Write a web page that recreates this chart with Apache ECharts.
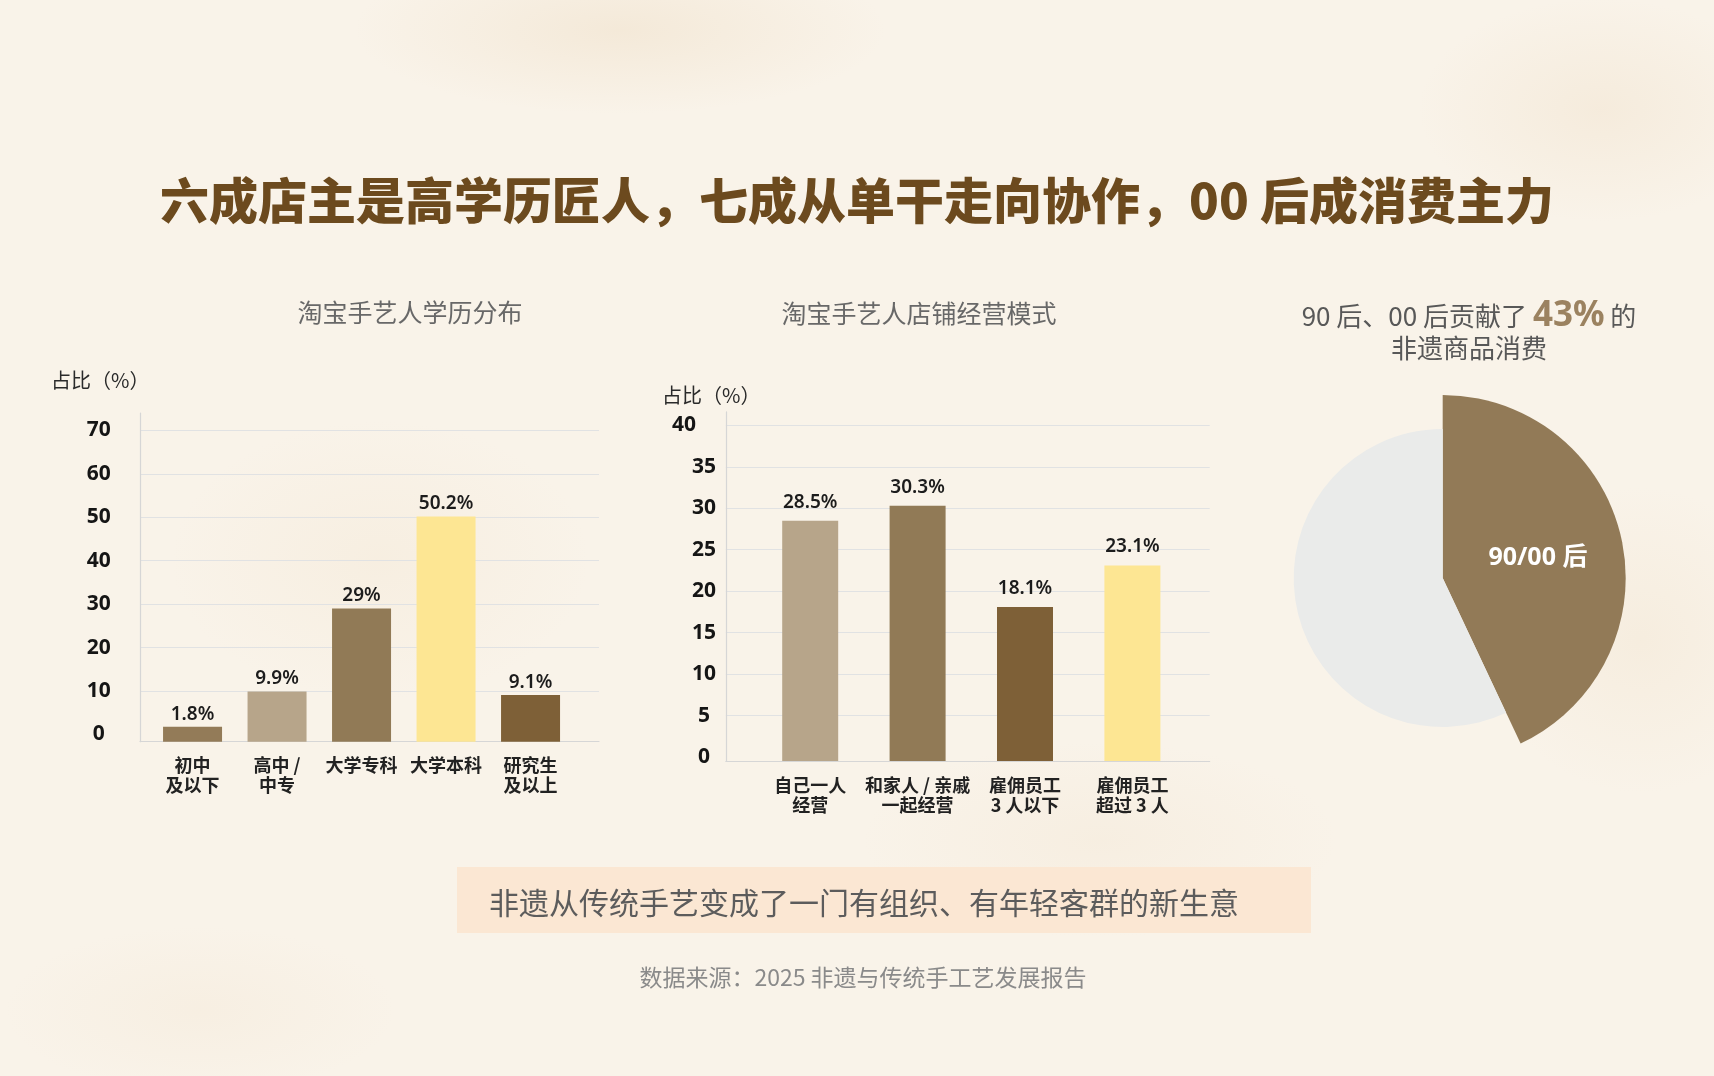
<!DOCTYPE html>
<html>
<head>
<meta charset="utf-8">
<script src="https://cdn.jsdelivr.net/npm/echarts@6/dist/echarts.min.js"></script>
<style>
  html, body { margin: 0; padding: 0; }
  body {
    width: 1714px; height: 1076px; overflow: hidden;
    background-color: #f9f3e9;
    background-image:
      radial-gradient(ellipse 380px 120px at 620px 30px, rgba(226, 198, 158, 0.22), rgba(226, 198, 158, 0) 70%),
      radial-gradient(ellipse 260px 160px at 1600px 110px, rgba(228, 200, 162, 0.18), rgba(228, 200, 162, 0) 70%),
      radial-gradient(ellipse 220px 220px at 1640px 640px, rgba(230, 205, 168, 0.16), rgba(230, 205, 168, 0) 70%),
      radial-gradient(ellipse 300px 200px at 380px 560px, rgba(234, 210, 175, 0.14), rgba(234, 210, 175, 0) 70%),
      radial-gradient(ellipse 340px 140px at 1100px 840px, rgba(232, 208, 175, 0.14), rgba(232, 208, 175, 0) 70%),
      radial-gradient(ellipse 280px 120px at 200px 1010px, rgba(232, 208, 175, 0.12), rgba(232, 208, 175, 0) 70%);
  }
  #chart { width: 1714px; height: 1076px; }
</style>
</head>
<body>
<div id="chart"></div>
<script>
// ---------- data ----------
const eduCategories = ['初中\n及以下', '高中 /\n中专', '大学专科', '大学本科', '研究生\n及以上'];
const eduValues = [1.8, 9.9, 29, 50.2, 9.1];
const eduTicks = [0, 10, 20, 30, 40, 50, 60, 70];

const modeCategories = ['自己一人\n经营', '和家人 / 亲戚\n一起经营', '雇佣员工\n3 人以下', '雇佣员工\n超过 3 人'];
const modeValues = [28.5, 30.3, 18.1, 23.1];
const modeTicks = [0, 5, 10, 15, 20, 25, 30, 35, 40];

const ageNames = ['90/00 后', '其他'];
const ageValues = [43, 57];

// ---------- styles ----------
const CJK = "'Noto Sans CJK SC', 'Noto Sans', sans-serif";
const LAT = "'Noto Sans', 'Noto Sans CJK SC', sans-serif";
const eduColors = ['#937b58', '#b7a58a', '#917a56', '#fde693', '#7e6037'];
const modeColors = ['#b7a58a', '#917a56', '#7e6037', '#fde693'];
const gridColor = '#e1e2e3';
const axisColor = '#d6d6d6';

const chart = echarts.init(document.getElementById('chart'), null, { renderer: 'canvas' });

function tickAxis(gi, ticks, margin, rich) {
  return {
    type: 'value', gridIndex: gi,
    min: ticks[0], max: ticks[ticks.length - 1], interval: ticks[1] - ticks[0],
    axisLine: { show: false }, axisTick: { show: false },
    splitLine: { show: true, showMinLine: false, lineStyle: { color: gridColor, width: 1 } },
    axisLabel: Object.assign({
      show: true, margin: margin, align: 'center',
      fontFamily: LAT, fontSize: 21, fontWeight: 'bold', color: '#151515'
    }, rich || {})
  };
}
function lineAxisY(gi, max) {
  return {
    type: 'value', gridIndex: gi, min: 0, max: max,
    axisLine: { show: true, lineStyle: { color: axisColor, width: 1.2 } },
    axisTick: { show: false }, axisLabel: { show: false }, splitLine: { show: false }
  };
}
function lineAxisX(gi) {
  return {
    type: 'category', gridIndex: gi, data: ['a'],
    axisLine: { show: true, lineStyle: { color: axisColor, width: 1.2 } },
    axisTick: { show: false }, axisLabel: { show: false }, splitLine: { show: false }
  };
}
function barAxisY(gi, min, max) {
  return {
    type: 'value', gridIndex: gi, min: min, max: max, startValue: min,
    show: false, splitLine: { show: false }
  };
}
function barAxisX(gi, cats, margin) {
  return {
    type: 'category', gridIndex: gi, data: cats,
    axisLine: { show: false }, axisTick: { show: false }, splitLine: { show: false },
    axisLabel: {
      show: true, interval: 0, margin: margin,
      fontFamily: CJK, fontSize: 18, fontWeight: 'bold', color: '#222', lineHeight: 20
    }
  };
}

const option = {
  backgroundColor: 'transparent',
  animation: false,
  title: [
    { text: '六成店主是高学历匠人，七成从单干走向协作，00 后成消费主力', left: 857, top: 170, textAlign: 'center', padding: 0,
      textStyle: { fontFamily: CJK, fontSize: 49, fontWeight: 900, color: '#6c4a1e', lineHeight: 60 } },
    { text: '淘宝手艺人学历分布', left: 410, top: 297, textAlign: 'center', padding: 0,
      textStyle: { fontFamily: CJK, fontSize: 25, fontWeight: 'normal', color: '#686868', lineHeight: 30 } },
    { text: '淘宝手艺人店铺经营模式', left: 919, top: 298, textAlign: 'center', padding: 0,
      textStyle: { fontFamily: CJK, fontSize: 25, fontWeight: 'normal', color: '#686868', lineHeight: 30 } },
    { text: '占比（%）', left: 51, top: 368, textAlign: 'left', padding: 0,
      textStyle: { fontFamily: CJK, fontSize: 20, fontWeight: 'normal', color: '#2a2a2a', lineHeight: 24 } },
    { text: '占比（%）', left: 662, top: 383, textAlign: 'left', padding: 0,
      textStyle: { fontFamily: CJK, fontSize: 20, fontWeight: 'normal', color: '#2a2a2a', lineHeight: 24 } },
    { text: '{a|90 后、00 后贡献了 }{b|43%}{a| 的}\n{a|非遗商品消费}', left: 1469, top: 300, textAlign: 'center', padding: 0,
      textStyle: {
        fontFamily: CJK, fontSize: 26, color: '#555', lineHeight: 32,
        rich: {
          a: { fontFamily: CJK, fontSize: 26, fontWeight: 'normal', color: '#585858', lineHeight: 32 },
          b: { fontFamily: LAT, fontSize: 35, fontWeight: 'bold', color: '#9b8260', lineHeight: 32 }
        }
      } },
    { text: '非遗从传统手艺变成了一门有组织、有年轻客群的新生意', left: 489, top: 885, textAlign: 'left', padding: 0,
      textStyle: { fontFamily: CJK, fontSize: 30, fontWeight: 'normal', color: '#5c5c5c', lineHeight: 36 } },
    { text: '数据来源：2025 非遗与传统手工艺发展报告', left: 863, top: 963, textAlign: 'center', padding: 0,
      textStyle: { fontFamily: CJK, fontSize: 23, fontWeight: 'normal', color: '#8a8a8a', lineHeight: 28 } }
  ],
  graphic: [
    { type: 'rect', z: -10, silent: true,
      shape: { x: 457, y: 867, width: 854, height: 66 },
      style: { fill: '#fbe7d3' } }
  ],
  grid: [
    // chart 1: ticks/gridlines, axis lines, bars
    { left: 140, top: 430.3, width: 459, height: 304.2, outerBoundsMode: 'none', containLabel: false },
    { left: 140, top: 413, width: 459, height: 328.7, outerBoundsMode: 'none', containLabel: false },
    { left: 150.3, top: 413, width: 422.5, height: 328.7, outerBoundsMode: 'none', containLabel: false },
    // chart 2
    { left: 725.8, top: 425.3, width: 483.9, height: 331.8, outerBoundsMode: 'none', containLabel: false },
    { left: 725.8, top: 411.9, width: 483.9, height: 349.2, outerBoundsMode: 'none', containLabel: false },
    { left: 756.5, top: 411.9, width: 429.6, height: 349.2, outerBoundsMode: 'none', containLabel: false }
  ],
  xAxis: [
    { type: 'category', gridIndex: 0, data: ['a'], show: false },
    lineAxisX(1),
    barAxisX(2, eduCategories, 13),
    { type: 'category', gridIndex: 3, data: ['a'], show: false },
    lineAxisX(4),
    barAxisX(5, modeCategories, 14.5)
  ],
  yAxis: [
    tickAxis(0, eduTicks, 41.3),
    lineAxisY(1, 75.65),
    barAxisY(2, -1.657, 74.0),
    tickAxis(3, modeTicks, 21.8, {
      formatter: function (v) { return v === modeTicks[modeTicks.length - 1] ? '{t|' + v + '}' : '' + v; },
      rich: { t: { fontFamily: LAT, fontSize: 21, fontWeight: 'bold', color: '#151515', padding: [0, 40, 0, 0] } }
    }),
    lineAxisY(4, 42.1),
    barAxisY(5, -0.482, 41.62)
  ],
  series: [
    {
      type: 'bar', xAxisIndex: 2, yAxisIndex: 2, barWidth: 59, silent: true,
      data: eduValues.map((v, i) => ({ value: v, itemStyle: { color: eduColors[i] } })),
      label: { show: true, position: 'top', distance: 3, formatter: p => p.value + '%',
        fontFamily: LAT, fontSize: 19, fontWeight: 600, color: '#1c1c1c' }
    },
    {
      type: 'bar', xAxisIndex: 5, yAxisIndex: 5, barWidth: 56, silent: true,
      data: modeValues.map((v, i) => ({ value: v, itemStyle: { color: modeColors[i] } })),
      label: { show: true, position: 'top', distance: 9, formatter: p => p.value + '%',
        fontFamily: LAT, fontSize: 19, fontWeight: 600, color: '#1c1c1c' }
    },
    {
      type: 'pie', center: [1442.7, 578], radius: [0, 183], startAngle: 90, clockwise: true,
      silent: true, avoidLabelOverlap: false, labelLine: { show: false },
      emphasis: { disabled: true },
      data: [
        { name: ageNames[0], value: ageValues[0], itemStyle: { color: '#927a57' },
          label: { show: true, position: 'inside', formatter: '{b}', fontFamily: LAT, fontSize: 25, fontWeight: 'bold', color: '#ffffff', padding: [10, 0, 0, 6] } },
        { name: ageNames[1], value: ageValues[1], itemStyle: { color: 'rgba(0,0,0,0)' }, label: { show: false } }
      ]
    },
    {
      type: 'pie', center: [1442.7, 578], radius: [0, 149], startAngle: 90, clockwise: true,
      silent: true, avoidLabelOverlap: false, labelLine: { show: false }, label: { show: false },
      emphasis: { disabled: true },
      data: [
        { name: ageNames[0], value: ageValues[0], itemStyle: { color: 'rgba(0,0,0,0)' } },
        { name: ageNames[1], value: ageValues[1], itemStyle: { color: '#eaebea' } }
      ]
    }
  ]
};
chart.setOption(option);
</script>
</body>
</html>
